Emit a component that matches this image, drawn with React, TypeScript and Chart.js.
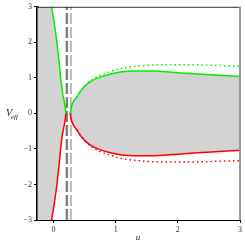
import React, { useEffect, useRef } from "react";
import { Chart, registerables } from "chart.js";
Chart.register(...registerables);

const X_MIN = -0.265;
const X_MAX = 3;
const Y_MIN = -3;
const Y_MAX = 3;

// Left branch (u < ~0.2)
const leftU = [-0.26, -0.2, -0.14, -0.08, -0.03, 0.016, 0.055, 0.087, 0.115, 0.14, 0.165, 0.185, 0.2];
const leftGreen = [9, 6.5, 4.8, 3.7, 3.0, 2.5, 2.0, 1.5, 1.0, 0.64, 0.4, 0.22, 0.0];
const leftRed = [-9, -6.5, -4.8, -3.7, -3.0, -2.5, -2.0, -1.5, -1.0, -0.64, -0.4, -0.22, 0.0];

// Right branch (solid)
const rightU = [0.27, 0.28, 0.3, 0.33, 0.38, 0.43, 0.5, 0.6, 0.75, 0.9, 1.1, 1.3, 1.6, 1.9, 2.2, 2.6, 3.0];
const rightGreen = [0, 0.12, 0.25, 0.36, 0.47, 0.62, 0.76, 0.9, 1.02, 1.1, 1.17, 1.19, 1.19, 1.16, 1.12, 1.08, 1.04];
const rightRed = [0, -0.12, -0.25, -0.36, -0.47, -0.62, -0.76, -0.9, -1.02, -1.1, -1.17, -1.19, -1.19, -1.16, -1.12, -1.08, -1.04];

// Right branch (dotted)
const dotU = [0.27, 0.3, 0.38, 0.5, 0.6, 0.75, 0.9, 1.1, 1.3, 1.6, 1.9, 2.2, 2.6, 3.0];
const dotGreen = [0, 0.25, 0.47, 0.76, 0.92, 1.07, 1.17, 1.27, 1.32, 1.36, 1.37, 1.37, 1.35, 1.33];
const dotRed = [0, -0.25, -0.47, -0.76, -0.92, -1.07, -1.17, -1.27, -1.32, -1.36, -1.37, -1.37, -1.35, -1.33];

// Vertical dashed markers
const dashDarkU = 0.215;
const dashLightU = 0.28;

const xTicks = [0, 1, 2, 3];
const yTicks = [-3, -2, -1, 0, 1, 2, 3];

const pts = (xs: number[], ys: number[]) => xs.map((x, i) => ({ x, y: ys[i] }));
// curve clipped to the visible y range (used only for the shaded region)
const clipY = (ys: number[]) => ys.map((v) => Math.max(Y_MIN * 1.02, Math.min(Y_MAX * 1.02, v)));

const GREEN = "#00ee00";
const RED = "#ff0000";
const FILL = "#d3d3d3";

const framePlugin = {
  id: "frameAndTitles",
  afterDraw(chart: any) {
    const { ctx, chartArea } = chart;
    const { left, right, top, bottom } = chartArea;
    ctx.save();
    ctx.strokeStyle = "#333333";
    ctx.lineWidth = 1;
    ctx.beginPath();
    ctx.moveTo(left, top + 0.5);
    ctx.lineTo(right, top + 0.5);
    ctx.stroke();
    ctx.strokeStyle = "#999999";
    ctx.lineWidth = 2;
    ctx.beginPath();
    ctx.moveTo(right, top);
    ctx.lineTo(right, bottom);
    ctx.stroke();
    ctx.fillStyle = "#222222";
    ctx.textBaseline = "alphabetic";
    ctx.textAlign = "left";
    ctx.font = 'italic 10px "Liberation Serif"';
    ctx.fillText("V", 6, 116);
    ctx.font = 'italic 7px "Liberation Serif"';
    ctx.fillText("eff", 11, 119);
    ctx.font = 'italic 9px "Liberation Serif"';
    ctx.textAlign = "center";
    ctx.textBaseline = "middle";
    ctx.fillText("u", 138, 238);
    ctx.restore();
  },
};

export default function App() {
  const ref = useRef<HTMLCanvasElement | null>(null);
  useEffect(() => {
    document.body.style.margin = "0";
    const canvas = ref.current!;
    const curve = (data: any, color: string, extra: any = {}) => ({
      data, showLine: true, borderColor: color, borderWidth: 1.5, pointRadius: 0,
      fill: false, order: 0, tension: 0.4, cubicInterpolationMode: "monotone", ...extra,
    });
    const chart = new Chart(canvas, {
      type: "scatter",
      data: {
        datasets: [
          // 0,1: shaded region left of the left branch
          { data: pts(leftU, clipY(leftGreen)), showLine: true, borderWidth: 0, borderColor: "rgba(0,0,0,0)", pointRadius: 0, fill: { target: 1 }, backgroundColor: FILL, order: 5, tension: 0.4, cubicInterpolationMode: "monotone" },
          { data: pts(leftU, clipY(leftRed)), showLine: true, borderWidth: 0, borderColor: "rgba(0,0,0,0)", pointRadius: 0, fill: false, order: 5, tension: 0.4, cubicInterpolationMode: "monotone" },
          // 2,3: right branch solid with shading between
          curve(pts(rightU, rightGreen), GREEN, { fill: { target: 3 }, backgroundColor: FILL }),
          curve(pts(rightU, rightRed), RED),
          // 4,5: left branch lines
          curve(pts(leftU, leftGreen), GREEN),
          curve(pts(leftU, leftRed), RED),
          // dotted
          curve(pts(dotU, dotGreen), GREEN, { borderDash: [1.5, 3], order: 1 }),
          curve(pts(dotU, dotRed), RED, { borderDash: [1.5, 3], order: 1 }),
          // dashed verticals
          { data: [{ x: dashDarkU, y: Y_MIN }, { x: dashDarkU, y: Y_MAX }], showLine: true, borderColor: "#808080", borderWidth: 2.5, borderDash: [11, 3], pointRadius: 0, fill: false, order: 2 },
          { data: [{ x: dashLightU, y: Y_MIN }, { x: dashLightU, y: Y_MAX }], showLine: true, borderColor: "#b8b8b8", borderWidth: 2, borderDash: [11, 3], pointRadius: 0, fill: false, order: 2 },
        ] as any,
      },
      options: {
        responsive: false,
        animation: false,
        events: [],
        layout: { padding: { top: 6, right: 5, left: 0, bottom: 0 } },
        plugins: {
          legend: { display: false },
          tooltip: { enabled: false },
          filler: { drawTime: "beforeDatasetsDraw", propagate: false },
        } as any,
        scales: {
          x: {
            type: "linear",
            min: X_MIN,
            max: X_MAX,
            afterBuildTicks: (s: any) => { s.ticks = xTicks.map((v) => ({ value: v })); },
            afterFit: (s: any) => { s.height = 25; },
            grid: { display: true, drawOnChartArea: false, drawTicks: true, tickLength: 3, color: "#000" },
            border: { color: "#000", width: 1 },
            ticks: { color: "#333", font: { family: "Liberation Serif", size: 8 }, padding: 2, maxRotation: 0 },
          },
          y: {
            type: "linear",
            min: Y_MIN,
            max: Y_MAX,
            afterBuildTicks: (s: any) => { s.ticks = yTicks.map((v) => ({ value: v })); },
            afterFit: (s: any) => { s.width = 37; },
            grid: { display: true, drawOnChartArea: false, drawTicks: true, tickLength: 3, color: "#000" },
            border: { color: "#000", width: 2.5 },
            ticks: {
              color: "#333",
              font: { family: "Liberation Serif", size: 8 },
              padding: 2,
              callback: (v: any) => String(v).replace("-", "\u2212"),
            },
          },
        },
      } as any,
      plugins: [framePlugin],
    });
    return () => chart.destroy();
  }, []);
  return (
    <div style={{ position: "absolute", left: 0, top: 0, width: 245, height: 245 }}>
      <canvas ref={ref} width={245} height={245} style={{ width: 245, height: 245 }} />
    </div>
  );
}
